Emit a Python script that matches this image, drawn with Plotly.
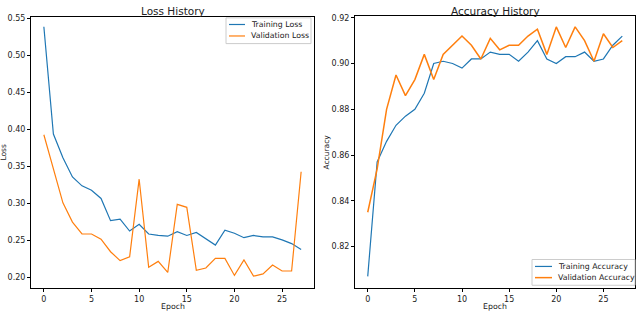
import plotly.graph_objects as go

epochs = list(range(28))
train_loss = [0.539, 0.394, 0.362, 0.336, 0.324, 0.318, 0.307, 0.277, 0.279, 0.263,
              0.272, 0.259, 0.257, 0.256, 0.262, 0.257, 0.261, 0.253, 0.244, 0.264,
              0.260, 0.254, 0.257, 0.255, 0.255, 0.251, 0.246, 0.238]
val_loss = [0.393, 0.347, 0.301, 0.275, 0.259, 0.259, 0.252, 0.235, 0.223, 0.228,
            0.333, 0.214, 0.222, 0.207, 0.299, 0.295, 0.210, 0.213, 0.226, 0.226,
            0.203, 0.224, 0.202, 0.205, 0.217, 0.209, 0.209, 0.343]
train_acc = [0.807, 0.857, 0.866, 0.873, 0.877, 0.880, 0.887, 0.900, 0.901, 0.900,
             0.898, 0.902, 0.902, 0.905, 0.904, 0.904, 0.901, 0.905, 0.910, 0.902,
             0.900, 0.903, 0.903, 0.905, 0.901, 0.902, 0.908, 0.912]
val_acc = [0.835, 0.854, 0.880, 0.895, 0.886, 0.893, 0.904, 0.893, 0.904, 0.908,
           0.912, 0.908, 0.902, 0.911, 0.906, 0.908, 0.908, 0.912, 0.915, 0.904,
           0.916, 0.907, 0.916, 0.910, 0.901, 0.913, 0.907, 0.910]

loss_ticks = [0.20, 0.25, 0.30, 0.35, 0.40, 0.45, 0.50, 0.55]
acc_ticks = [0.82, 0.84, 0.86, 0.88, 0.90, 0.92]
x_ticks = [0, 5, 10, 15, 20, 25]

BLUE = "#1f77b4"
ORANGE = "#ff7f0e"
FONT = "DejaVu Sans"
W, H = 640, 312

def px(x):
    return x / W

def py(y):
    return 1 - y / H

fig = go.Figure()
fig.add_trace(go.Scatter(x=epochs, y=train_loss, mode="lines", name="Training Loss",
                         line=dict(color=BLUE, width=1.2), xaxis="x", yaxis="y"))
fig.add_trace(go.Scatter(x=epochs, y=val_loss, mode="lines", name="Validation Loss",
                         line=dict(color=ORANGE, width=1.2), xaxis="x", yaxis="y"))
fig.add_trace(go.Scatter(x=epochs, y=train_acc, mode="lines", name="Training Accuracy",
                         line=dict(color=BLUE, width=1.2), xaxis="x2", yaxis="y2"))
fig.add_trace(go.Scatter(x=epochs, y=val_acc, mode="lines", name="Validation Accuracy",
                         line=dict(color=ORANGE, width=1.5), xaxis="x2", yaxis="y2"))

axis_common = dict(showline=True, linecolor="black", linewidth=1, mirror=True,
                   ticks="outside", ticklen=3, tickwidth=1, tickcolor="black",
                   showgrid=False, zeroline=False,
                   tickfont=dict(family=FONT, size=8, color="#222"))

shapes = []
annotations = []

def legend(box, rows):
    x0, y0, x1, y1 = box
    shapes.append(dict(type="rect", xref="paper", yref="paper",
                       x0=px(x0), x1=px(x1), y0=py(y1), y1=py(y0),
                       line=dict(color="#cccccc", width=1), fillcolor="rgba(255,255,255,0.85)",
                       layer="above"))
    for (lx0, lx1, ty, color, width, text) in rows:
        shapes.append(dict(type="line", xref="paper", yref="paper",
                           x0=px(lx0), x1=px(lx1), y0=py(ty), y1=py(ty),
                           line=dict(color=color, width=width), layer="above"))
        annotations.append(dict(text=text, x=px(lx1 + 4), y=py(ty), xref="paper", yref="paper",
                                xanchor="left", yanchor="middle", showarrow=False,
                                font=dict(family=FONT, size=7.8, color="#222")))

legend((226, 15, 311, 41), [
    (229, 245, 21.7, BLUE, 1.2, "Training Loss"),
    (229, 245, 33.3, ORANGE, 1.2, "Validation Loss"),
])
legend((532, 259, 635, 285), [
    (535, 552, 266, BLUE, 1.2, "Training Accuracy"),
    (535, 552, 277.3, ORANGE, 1.5, "Validation Accuracy"),
])

for text, x in [("Loss History", 172.5), ("Accuracy History", 495)]:
    annotations.append(dict(text=text, x=px(x), y=1.0, xref="paper", yref="paper",
                            xanchor="center", yanchor="top", showarrow=False,
                            font=dict(family=FONT, size=10.5, color="#222")))
for x in [172.5, 495]:
    annotations.append(dict(text="Epoch", x=px(x), y=py(313), xref="paper", yref="paper",
                            xanchor="center", yanchor="bottom", showarrow=False,
                            font=dict(family=FONT, size=7.8, color="#222")))
for text, x in [("Loss", 4), ("Accuracy", 327)]:
    annotations.append(dict(text=text, x=px(x), y=py(151), xref="paper", yref="paper",
                            xanchor="center", yanchor="middle", showarrow=False, textangle=-90,
                            font=dict(family=FONT, size=7.5, color="#222")))

fig.update_layout(
    width=W, height=H,
    margin=dict(l=0, r=0, t=0, b=0),
    paper_bgcolor="white", plot_bgcolor="white",
    font=dict(family=FONT, size=8, color="#222"),
    showlegend=False,
    xaxis=dict(domain=[px(31), px(314)], range=[-1.35, 28.35], tickvals=x_ticks,
               anchor="y", **axis_common),
    yaxis=dict(domain=[py(288), py(14)], range=[0.1857, 0.5523], tickvals=loss_ticks,
               tickformat=".2f", anchor="x", **axis_common),
    xaxis2=dict(domain=[px(355), px(635)], range=[-1.35, 28.35], tickvals=x_ticks,
                anchor="y2", **axis_common),
    yaxis2=dict(domain=[py(288), py(13.3)], range=[0.8018, 0.9207], tickvals=acc_ticks,
                tickformat=".2f", anchor="x2", **axis_common),
    shapes=shapes,
    annotations=annotations,
)

fig.write_html("out.html", config={"displayModeBar": False})

# remove the default page margin so the figure sits at the window's top-left corner
with open("out.html", encoding="utf-8") as f:
    html = f.read()
html = html.replace("<head>", "<head><style>html,body{margin:0;padding:0;overflow:hidden;}</style>", 1)
with open("out.html", "w", encoding="utf-8") as f:
    f.write(html)
